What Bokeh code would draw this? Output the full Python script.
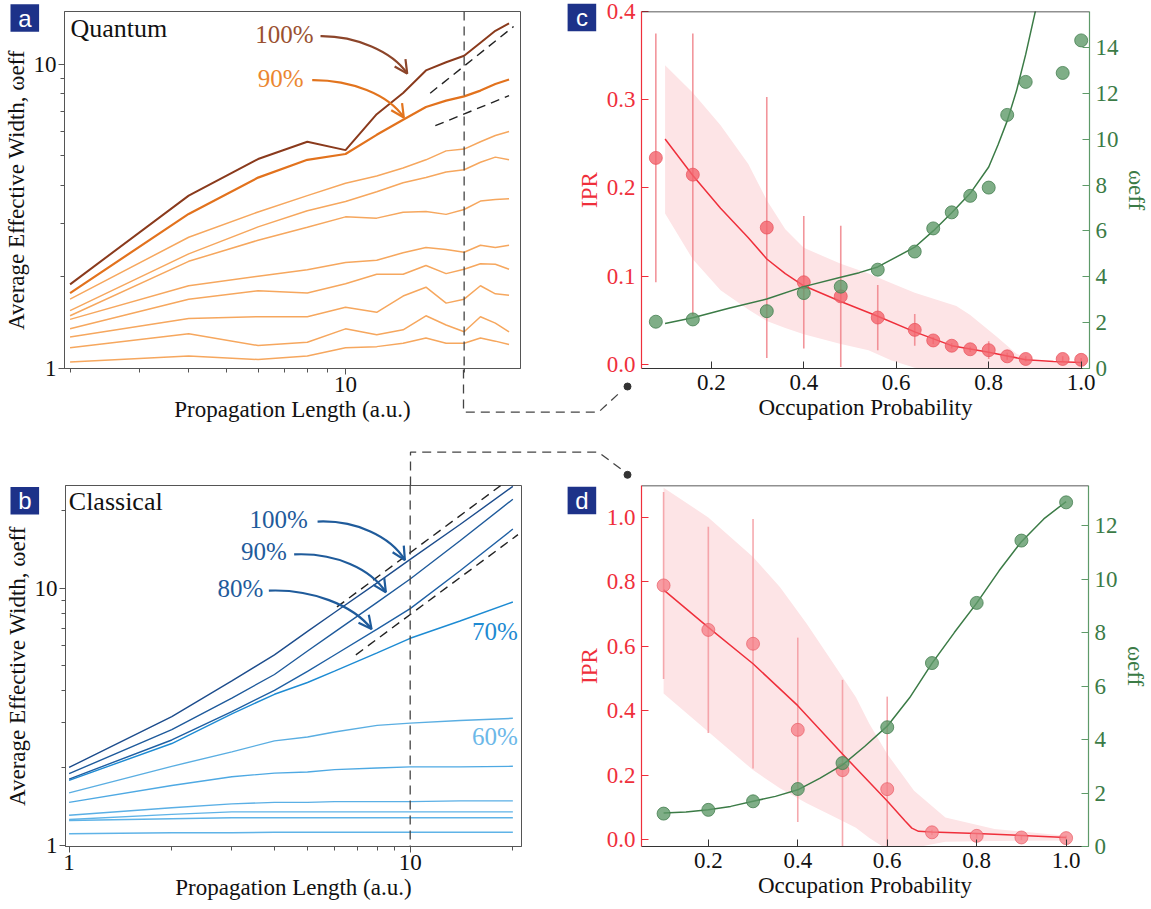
from bokeh.plotting import figure
from bokeh.models import (Range1d, LinearAxis, FixedTicker, NumeralTickFormatter,
                          Label, Arrow, OpenHead, Span)
from bokeh.layouts import row, column
from bokeh.embed import file_html
from bokeh.resources import INLINE
from bokeh.core.properties import value

SERIF = "Liberation Serif"
SANS = "Liberation Sans"

# ---------------- data: panel a (quantum) ----------------
prop_len_q = [2, 4, 6, 8, 10, 12, 14, 16, 18, 20, 22, 24, 26]
q100 = [1.89, 3.70, 4.88, 5.56, 5.22, 6.85, 8.04, 9.54, 10.15, 10.66, 11.77, 12.88, 13.63]
q90 = [1.77, 3.22, 4.24, 4.85, 5.07, 5.86, 6.57, 7.23, 7.59, 7.84, 8.19, 8.61, 8.91]
q80 = [1.69, 2.70, 3.27, 3.70, 4.06, 4.29, 4.56, 4.85, 5.19, 5.26, 5.56, 5.83, 6.01]
q70 = [1.55, 2.38, 2.92, 3.30, 3.54, 3.81, 4.08, 4.24, 4.42, 4.50, 4.76, 4.95, 4.85]
q60 = [1.49, 2.25, 2.64, 2.91, 3.15, 3.12, 3.26, 3.28, 3.21, 3.33, 3.55, 3.59, 3.61]
q50 = [1.45, 1.87, 2.01, 2.11, 2.23, 2.27, 2.40, 2.50, 2.46, 2.41, 2.54, 2.50, 2.54]
q40 = [1.35, 1.69, 1.80, 1.77, 1.90, 2.04, 2.04, 2.18, 2.05, 2.12, 2.21, 2.20, 2.12]
q30 = [1.27, 1.46, 1.48, 1.48, 1.59, 1.53, 1.73, 1.85, 1.64, 1.69, 1.87, 1.76, 1.74]
q20 = [1.17, 1.30, 1.19, 1.22, 1.35, 1.29, 1.34, 1.49, 1.39, 1.32, 1.48, 1.41, 1.32]
q10 = [1.05, 1.10, 1.07, 1.10, 1.17, 1.18, 1.21, 1.26, 1.21, 1.21, 1.26, 1.23, 1.20]
guide_a_upper_x = [16.4, 26.7]
guide_a_upper_y = [8.03, 13.3]
guide_a_lower_x = [16.9, 26.0]
guide_a_lower_y = [6.28, 7.88]
marker_a_x = 20

# ---------------- data: panel b (classical) ----------------
prop_len_c = [1, 2, 3, 4, 5, 6, 8, 10, 14, 20]
c100 = [2.01, 3.17, 4.36, 5.51, 6.80, 8.05, 10.5, 12.95, 17.7, 24.9]
c90 = [1.90, 2.82, 3.74, 4.62, 5.70, 6.75, 8.81, 10.86, 15.3, 22.2]
c80 = [1.81, 2.57, 3.31, 4.01, 4.75, 5.50, 6.94, 8.33, 11.7, 17.0]
c70 = [1.79, 2.49, 3.25, 3.87, 4.30, 4.76, 5.61, 6.39, 7.46, 8.84]
c60 = [1.60, 2.03, 2.31, 2.55, 2.64, 2.76, 2.93, 2.99, 3.06, 3.12]
c50 = [1.47, 1.71, 1.85, 1.91, 1.93, 1.97, 2.00, 2.02, 2.02, 2.03]
c40 = [1.31, 1.40, 1.45, 1.47, 1.47, 1.48, 1.48, 1.48, 1.49, 1.49]
c30 = [1.26, 1.32, 1.35, 1.35, 1.35, 1.35, 1.35, 1.35, 1.35, 1.35]
c20 = [1.25, 1.27, 1.28, 1.28, 1.28, 1.28, 1.28, 1.28, 1.28, 1.28]
c10 = [1.11, 1.12, 1.12, 1.125, 1.125, 1.125, 1.125, 1.125, 1.125, 1.125]
guide_b_upper_x = [6.1, 20.0]
guide_b_upper_y = [8.46, 27.2]
guide_b_lower_x = [6.93, 20.7]
guide_b_lower_y = [5.51, 16.16]
marker_b_x = 10

# ---------------- data: panel c ----------------
occ_c = [0.08, 0.16, 0.32, 0.40, 0.48, 0.56, 0.64, 0.68, 0.72, 0.76, 0.80, 0.84, 0.88, 0.96, 1.00]
ipr_c = [0.234, 0.215, 0.155, 0.093, 0.077, 0.053, 0.039, 0.027, 0.021, 0.017, 0.016, 0.009, 0.006, 0.006, 0.005]
ipr_c_err = [0.141, 0.160, 0.148, 0.075, 0.080, 0.037, 0.018, 0.004, 0.003, 0.003, 0.010, 0.004, 0.003, 0.003, 0.002]
weff_c = [2.04, 2.14, 2.50, 3.29, 3.57, 4.31, 5.10, 6.11, 6.81, 7.53, 7.89, 11.06, 12.50, 12.89, 14.31]
ipr_fit_c_x = [0.10, 0.16, 0.22, 0.28, 0.32, 0.36, 0.40, 0.48, 0.56, 0.64, 0.72, 0.80, 0.88, 0.94, 1.00]
ipr_fit_c = [0.2555, 0.214, 0.177, 0.1435, 0.1194, 0.1027, 0.089, 0.0712, 0.0545, 0.0367, 0.0211, 0.0137, 0.0052, 0.0030, 0.0019]
band_c_x = [0.10, 0.16, 0.22, 0.28, 0.32, 0.36, 0.40, 0.48, 0.54, 0.59, 0.64, 0.73, 0.76, 0.82, 0.86, 0.90, 1.00]
band_c_hi = [0.339, 0.308, 0.271, 0.227, 0.186, 0.153, 0.132, 0.114, 0.103, 0.092, 0.081, 0.066, 0.056, 0.030, 0.012, 0.003, 0.001]
band_c_lo = [0.171, 0.119, 0.084, 0.062, 0.049, 0.041, 0.034, 0.023, 0.016, 0.0044, -0.004, -0.01, -0.01, -0.01, -0.01, -0.01, -0.01]
weff_fit_c_x = [0.10, 0.16, 0.24, 0.32, 0.40, 0.48, 0.52, 0.56, 0.64, 0.68, 0.72, 0.76, 0.80, 0.82, 0.84, 0.86, 0.88, 0.90, 0.92]
weff_fit_c = [1.96, 2.21, 2.64, 3.03, 3.57, 3.98, 4.18, 4.43, 5.29, 6.00, 6.79, 7.64, 8.79, 9.75, 10.8, 12.1, 13.7, 15.5, 17.5]

# ---------------- data: panel d ----------------
occ_d = [0.1, 0.2, 0.3, 0.4, 0.5, 0.6, 0.7, 0.8, 0.9, 1.0]
ipr_d = [0.789, 0.651, 0.608, 0.341, 0.216, 0.157, 0.023, 0.012, 0.007, 0.005]
ipr_d_err = [0.29, 0.32, 0.387, 0.286, 0.28, 0.287, 0.008, 0.008, 0.008, 0.008]
weff_d = [1.23, 1.37, 1.69, 2.15, 3.12, 4.46, 6.86, 9.11, 11.44, 12.87]
ipr_fit_d_x = [0.1, 0.2, 0.3, 0.4, 0.5, 0.6, 0.64, 0.655, 0.67, 0.7, 0.8, 0.9, 1.0]
ipr_fit_d = [0.775, 0.659, 0.546, 0.416, 0.266, 0.12, 0.058, 0.036, 0.026, 0.024, 0.019, 0.0135, 0.007]
band_d_x = [0.1, 0.2, 0.3, 0.36, 0.42, 0.48, 0.53, 0.56, 0.6, 0.66, 0.73, 0.84, 1.0]
band_d_hi = [1.092, 1.0, 0.877, 0.784, 0.67, 0.546, 0.442, 0.36, 0.266, 0.152, 0.069, 0.033, 0.012]
band_d_lo = [0.454, 0.335, 0.216, 0.16, 0.113, 0.072, 0.037, 0.005, -0.03, -0.025, -0.006, -0.004, -0.002]
weff_fit_d_x = [0.1, 0.15, 0.2, 0.25, 0.3, 0.35, 0.4, 0.45, 0.5, 0.55, 0.6, 0.65, 0.7, 0.75, 0.8, 0.85, 0.9, 0.95, 1.0]
weff_fit_d = [1.25, 1.29, 1.37, 1.50, 1.69, 1.875, 2.12, 2.56, 3.05, 3.75, 4.5, 5.56, 6.85, 8.0, 9.1, 10.31, 11.4, 12.25, 12.9]

# ---------------- decorations (page pixels) ----------------
panel_letters = ["a", "b", "c", "d"]
badge_cx = [24.3, 24.3, 581.4, 581.4]
badge_cy = [17.5, 500.3, 17.0, 500.0]
conn_a_x = [463, 463, 598, 621]
conn_a_y = [369, 411.7, 411.7, 390.5]
conn_b_x = [410, 410, 598, 621]
conn_b_y = [485, 451.7, 451.7, 469]
conn_dot_x = [627, 627]
conn_dot_y = [386, 474.3]

RED = "#ef2f3b"
GREEN = "#3b7b46"
GREEN_AX = "#5e9a69"
CONN = "#444444"


# reference-pixel -> data helpers for in-frame annotations
def a_xy(px, py):
    return 10 ** ((px - 345) / 394 + 1), 10 ** ((369 - py) / 312)


def b_xy(px, py):
    return 10 ** ((px - 68.3) / 341), 10 ** ((850 - py) / 260.7)


def curved_arrow(p, to, start, c0, c1, tip, color):
    x0, y0 = to(*start)
    cx0, cy0 = to(*c0)
    cx1, cy1 = to(*c1)
    x1, y1 = to(*tip)
    p.bezier(x0=[x0], y0=[y0], x1=[x1], y1=[y1], cx0=[cx0], cy0=[cy0], cx1=[cx1], cy1=[cy1],
             line_color=color, line_width=2.2)
    hx = tip[0] - 0.15 * (tip[0] - c1[0])
    hy = tip[1] - 0.15 * (tip[1] - c1[1])
    sx, sy = to(hx, hy)
    p.add_layout(Arrow(end=OpenHead(size=13, line_color=color, line_width=2.2),
                       x_start=sx, y_start=sy, x_end=x1, y_end=y1,
                       line_color=color, line_width=2.2))


def text(p, to, px, py, s, color, size="25px", align="left", font=SERIF):
    x, y = to(px, py)
    p.add_layout(Label(x=x, y=y, text=s, text_color=color, text_font=font,
                       text_font_size=size, text_align=align, text_baseline="middle"))


def style_log(p, xticks, xminor, yticks, yminor):
    p.xaxis.ticker = FixedTicker(ticks=xticks, minor_ticks=xminor)
    p.yaxis.ticker = FixedTicker(ticks=yticks, minor_ticks=yminor)
    for ax in (p.xaxis[0], p.yaxis[0]):
        ax.axis_line_color = "#555555"
        ax.major_tick_line_color = "#555555"
        ax.minor_tick_line_color = "#555555"
        ax.major_tick_out = 6
        ax.major_tick_in = 0
        ax.minor_tick_out = 4
        ax.minor_tick_in = 0
        ax.major_label_text_font = SERIF
        ax.major_label_text_font_size = "23px"
        ax.major_label_text_color = "#111111"
        ax.axis_label_text_font = SERIF
        ax.axis_label_text_font_size = "23px"
        ax.axis_label_text_font_style = "normal"
        ax.axis_label_text_color = "#111111"
        ax.major_label_standoff = 2
        ax.axis_label_standoff = 2
        ax.formatter = NumeralTickFormatter(format="0")
    p.outline_line_color = "#555555"
    p.xgrid.visible = False
    p.ygrid.visible = False


def style_lin(p, xticks, yticks, yfmt, rticks):
    p.xaxis.ticker = FixedTicker(ticks=xticks)
    p.yaxis.ticker = FixedTicker(ticks=yticks)
    p.yaxis.formatter = NumeralTickFormatter(format=yfmt)
    p.xaxis.formatter = NumeralTickFormatter(format="0.0")
    p.xaxis.axis_label = "Occupation Probability"
    p.yaxis.axis_label = "IPR"
    p.xgrid.visible = False
    p.ygrid.visible = False
    p.outline_line_color = None
    xa = p.xaxis[0]
    xa.axis_line_color = "#333333"
    xa.major_tick_line_color = "#333333"
    xa.major_label_text_color = "#111111"
    xa.axis_label_text_color = "#111111"
    ya = p.yaxis[0]
    ya.axis_line_color = RED
    ya.major_tick_line_color = RED
    ya.major_label_text_color = RED
    ya.axis_label_text_color = RED
    ra = LinearAxis(y_range_name="w", ticker=FixedTicker(ticks=rticks), axis_label="ωeff")
    ra.axis_line_color = GREEN_AX
    ra.major_tick_line_color = GREEN_AX
    ra.major_label_text_color = GREEN
    ra.axis_label_text_color = GREEN
    p.add_layout(ra, "right")
    for ax in (xa, ya, ra):
        ax.minor_tick_line_color = None
        ax.major_tick_in = 7
        ax.major_tick_out = 0
        ax.major_label_text_font = SERIF
        ax.major_label_text_font_size = "23px"
        ax.axis_label_text_font = SERIF
        ax.axis_label_text_font_size = "23px"
        ax.axis_label_text_font_style = "normal"
        ax.major_label_standoff = 6
        ax.axis_label_standoff = 2
        ax.axis_line_width = 1.2


# ================= panel a =================
pa = figure(width=565, height=440, x_axis_type="log", y_axis_type="log",
            x_range=Range1d(1.936, 27.8), y_range=Range1d(1.0, 14.9),
            output_backend="svg", toolbar_location=None,
            min_border_left=64, min_border_right=45, min_border_top=3, min_border_bottom=71)
style_log(pa, [10], [2, 3, 4, 5, 6, 7, 8, 9, 20], [1, 10], [2, 3, 4, 5, 6, 7, 8, 9])
pa.xaxis.axis_label = "Propagation Length (a.u.)"
pa.yaxis.axis_label = "Average Effective Width, ωeff"

quantum = [q10, q20, q30, q40, q50, q60, q70, q80, q90, q100]
q_colors = ["#f6a75e"] * 8 + ["#e2721d", "#8a3a1c"]
q_widths = [1.5] * 8 + [2.2, 2.0]
for ys, col, w in zip(quantum, q_colors, q_widths):
    pa.line(prop_len_q, ys, line_color=col, line_width=w)
pa.line(guide_a_upper_x, guide_a_upper_y, line_color="#222222", line_width=1.4, line_dash="9 6")
pa.line(guide_a_lower_x, guide_a_lower_y, line_color="#222222", line_width=1.4, line_dash="9 6")
pa.add_layout(Span(location=marker_a_x, dimension="height", line_color=CONN, line_width=1.3, line_dash="9 6"))
curved_arrow(pa, a_xy, (320, 28.3), (355, 28), (392, 44), (406.7, 66.7), "#8c452a")
curved_arrow(pa, a_xy, (311.7, 73.3), (350, 73), (388, 88), (403.3, 111.7), "#e2741e")
text(pa, a_xy, 313, 26.7, "100%", "#9a5030", align="right")
text(pa, a_xy, 303, 71.7, "90%", "#eb8630", align="right")
text(pa, a_xy, 70, 20.7, "Quantum", "#111111", size="26px")

# ================= panel b =================
pb = figure(width=565, height=469, x_axis_type="log", y_axis_type="log",
            x_range=Range1d(0.976, 21.2), y_range=Range1d(0.99, 25.1),
            output_backend="svg", toolbar_location=None,
            min_border_left=65, min_border_right=44, min_border_top=45, min_border_bottom=59)
style_log(pb, [1, 10], [2, 3, 4, 5, 6, 7, 8, 9, 20], [1, 10], [2, 3, 4, 5, 6, 7, 8, 9, 20])
pb.xaxis.axis_label = "Propagation Length (a.u.)"
pb.yaxis.axis_label = "Average Effective Width, ωeff"

classical = [c10, c20, c30, c40, c50, c60, c70, c80, c90, c100]
c_colors = ["#5fb3e7", "#5fb3e7", "#5fb3e7", "#5aafe5", "#4ea9e3", "#5aaee2",
            "#1d8bd3", "#1e5fa3", "#1e5a9b", "#1c4c8c"]
for ys, col in zip(classical, c_colors):
    pb.line(prop_len_c, ys, line_color=col, line_width=1.4)
pb.line(guide_b_upper_x, guide_b_upper_y, line_color="#222222", line_width=1.4, line_dash="9 6")
pb.line(guide_b_lower_x, guide_b_lower_y, line_color="#222222", line_width=1.4, line_dash="9 6")
pb.add_layout(Span(location=marker_b_x, dimension="height", line_color=CONN, line_width=1.3, line_dash="9 6"))
BLUE_T = "#1f5b9b"
curved_arrow(pb, b_xy, (316.7, 521.7), (355, 520), (390, 537), (404, 560.7), BLUE_T)
curved_arrow(pb, b_xy, (293.3, 555), (335, 553), (370, 570), (385, 593.3), BLUE_T)
curved_arrow(pb, b_xy, (268, 591.7), (310, 590), (352, 606), (370.7, 630.7), BLUE_T)
text(pb, b_xy, 307, 520, "100%", BLUE_T, align="right")
text(pb, b_xy, 286, 551.7, "90%", BLUE_T, align="right")
text(pb, b_xy, 262.5, 590, "80%", BLUE_T, align="right")
text(pb, b_xy, 517, 633.3, "70%", "#1e8ad2", align="right")
text(pb, b_xy, 517, 739.3, "60%", "#6cb8e8", align="right")
text(pb, b_xy, 68, 501.7, "Classical", "#111111", size="26px")

# ================= panel c =================
pc = figure(width=586, height=440, x_range=Range1d(0.049, 1.018), y_range=Range1d(-0.0048, 0.4),
            output_backend="svg", toolbar_location=None,
            min_border_left=76, min_border_right=58, min_border_top=11, min_border_bottom=72)
pc.extra_y_ranges = {"w": Range1d(0, 15.57)}
style_lin(pc, [0.2, 0.4, 0.6, 0.8, 1.0], [0.0, 0.1, 0.2, 0.3, 0.4], "0.0", [0, 2, 4, 6, 8, 10, 12, 14])
pc.add_layout(Span(location=0.4, dimension="width", line_color="#222222", line_width=1.5))
pc.varea(x=band_c_x, y1=band_c_lo, y2=band_c_hi, fill_color="#fde4e6", fill_alpha=1.0)
pc.segment(x0=occ_c, y0=[v - e for v, e in zip(ipr_c, ipr_c_err)],
           x1=occ_c, y1=[v + e for v, e in zip(ipr_c, ipr_c_err)],
           line_color="#f0838a", line_width=1.6, line_alpha=0.85)
pc.line(ipr_fit_c_x, ipr_fit_c, line_color=RED, line_width=1.5)
pc.scatter(occ_c, ipr_c, size=13, fill_color="#f2646d", fill_alpha=0.8, line_color="#e8505a", line_alpha=0.7)
pc.line(weff_fit_c_x, weff_fit_c, y_range_name="w", line_color=GREEN, line_width=1.5)
pc.scatter(occ_c, weff_c, y_range_name="w", size=13, fill_color="#5f9a69", fill_alpha=0.8,
           line_color="#467f51", line_alpha=0.8)

# ================= panel d =================
pd_ = figure(width=586, height=469, x_range=Range1d(0.0506, 1.05), y_range=Range1d(-0.021, 1.099),
             output_backend="svg", toolbar_location=None,
             min_border_left=76, min_border_right=63, min_border_top=45, min_border_bottom=63)
pd_.extra_y_ranges = {"w": Range1d(0, 13.5)}
style_lin(pd_, [0.2, 0.4, 0.6, 0.8, 1.0], [0.0, 0.2, 0.4, 0.6, 0.8, 1.0], "0.0", [0, 2, 4, 6, 8, 10, 12])
pd_.add_layout(Span(location=1.099, dimension="width", line_color="#222222", line_width=1.5))
pd_.varea(x=band_d_x, y1=band_d_lo, y2=band_d_hi, fill_color="#fde4e6", fill_alpha=1.0)
pd_.segment(x0=occ_d, y0=[v - e for v, e in zip(ipr_d, ipr_d_err)],
            x1=occ_d, y1=[v + e for v, e in zip(ipr_d, ipr_d_err)],
            line_color="#f39aa0", line_width=1.6, line_alpha=0.85)
pd_.line(ipr_fit_d_x, ipr_fit_d, line_color=RED, line_width=1.5)
pd_.scatter(occ_d, ipr_d, size=13, fill_color="#f47c84", fill_alpha=0.75, line_color="#e8505a", line_alpha=0.6)
pd_.line(weff_fit_d_x, weff_fit_d, y_range_name="w", line_color=GREEN, line_width=1.5)
pd_.scatter(occ_d, weff_d, y_range_name="w", size=13, fill_color="#5f9a69", fill_alpha=0.8,
            line_color="#467f51", line_alpha=0.8)

# ================= transparent overlay for cross-panel decorations =================
ov = figure(width=1151, height=909, x_range=Range1d(0, 1151), y_range=Range1d(909, 0),
            x_axis_location=None, y_axis_location=None, toolbar_location=None,
            output_backend="svg", min_border_left=0, min_border_right=0,
            min_border_top=0, min_border_bottom=0, outline_line_color=None,
            background_fill_alpha=0, border_fill_alpha=0)
ov.xgrid.visible = False
ov.ygrid.visible = False
ov.margin = (-909, 0, 0, 0)
ov.line(conn_a_x, conn_a_y, line_color=CONN, line_width=1.3, line_dash="9 6")
ov.line(conn_b_x, conn_b_y, line_color=CONN, line_width=1.3, line_dash="9 6")
ov.scatter(conn_dot_x, conn_dot_y, size=7, fill_color="#333333", line_color="#333333")
ov.rect(x=badge_cx, y=badge_cy, width=28.6, height=27.5, fill_color="#1d3289", line_color=None)
ov.text(x=badge_cx, y=badge_cy, text=panel_letters, text_color="white", text_font=value(SANS),
        text_font_size="24px", text_align="center", text_baseline="middle")

layout = column(row(pa, pc), row(pb, pd_), ov)
open("out.html", "w").write(file_html(layout, INLINE))
